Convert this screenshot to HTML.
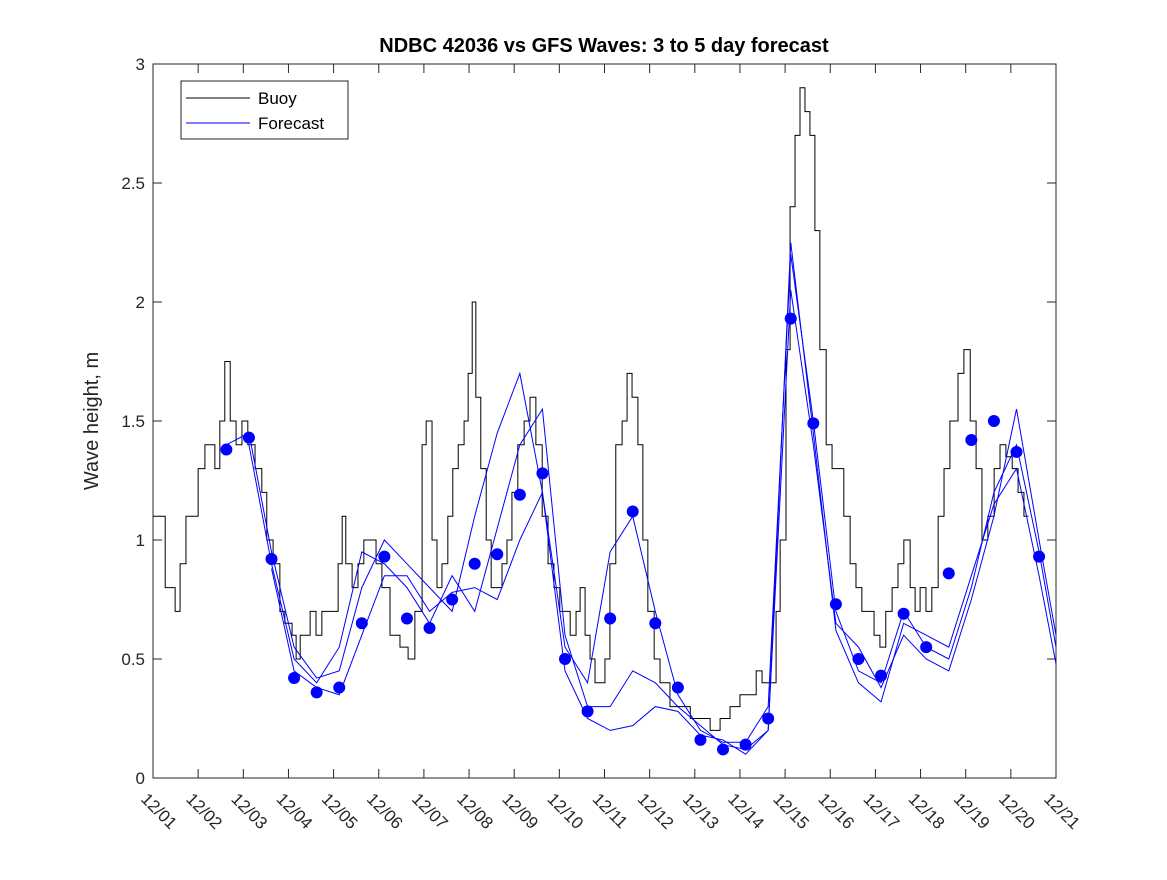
<!DOCTYPE html>
<html><head><meta charset="utf-8"><style>
body{margin:0;background:#fff;}
svg text{font-family:"Liberation Sans",sans-serif;}
</style></head><body>
<svg id="chart" width="1167" height="875" xmlns="http://www.w3.org/2000/svg">
<rect x="0" y="0" width="1167" height="875" fill="#fff"/>
<rect x="153" y="64" width="903" height="714" fill="#fff" stroke="#262626" stroke-width="1"/>
<text x="604" y="52" text-anchor="middle" font-size="20" font-weight="bold" fill="#000">NDBC 42036 vs GFS Waves: 3 to 5 day forecast</text>
<text transform="translate(98,421) rotate(-90)" text-anchor="middle" font-size="20" fill="#262626">Wave height, m</text>
<g id="axes"></g>
<g id="series"></g>
<g>
<rect x="181" y="81" width="167" height="58" fill="#fff" stroke="#262626" stroke-width="1"/>
<line x1="186" y1="98" x2="250" y2="98" stroke="#000" stroke-width="1"/>
<text x="258" y="104" font-size="17" fill="#000">Buoy</text>
<line x1="186" y1="123" x2="250" y2="123" stroke="#0000ff" stroke-width="1"/>
<text x="258" y="129" font-size="17" fill="#000">Forecast</text>
</g>
</svg>
<script>
const xTickLabels=["12/01","12/02","12/03","12/04","12/05","12/06","12/07","12/08","12/09","12/10","12/11","12/12","12/13","12/14","12/15","12/16","12/17","12/18","12/19","12/20","12/21"];
const yTicks=[0,0.5,1,1.5,2,2.5,3];
const yTickLabels=["0","0.5","1","1.5","2","2.5","3"];
const buoyDays=[0,.27,.49,.6,.73,.86,1.0,1.15,1.37,1.48,1.59,1.71,1.84,1.97,2.1,2.26,2.41,2.52,2.66,2.81,2.92,3.08,3.17,3.26,3.48,3.61,3.74,3.92,4.1,4.19,4.27,4.41,4.54,4.67,4.81,4.94,5.07,5.25,5.47,5.65,5.8,5.96,6.05,6.18,6.29,6.4,6.53,6.64,6.76,6.89,6.98,7.07,7.15,7.26,7.38,7.49,7.6,7.73,7.84,7.95,8.08,8.22,8.35,8.48,8.62,8.75,8.88,9.01,9.15,9.24,9.37,9.46,9.57,9.68,9.79,9.9,10.01,10.12,10.25,10.39,10.5,10.61,10.74,10.85,10.96,11.1,11.23,11.34,11.45,11.56,11.67,11.9,12.12,12.34,12.56,12.78,13.0,13.22,13.36,13.49,13.67,13.8,13.89,14.02,14.11,14.22,14.33,14.44,14.55,14.66,14.77,14.91,15.04,15.17,15.3,15.44,15.57,15.7,15.84,15.97,16.1,16.23,16.37,16.5,16.63,16.77,16.88,16.99,17.12,17.25,17.39,17.52,17.65,17.83,17.96,18.1,18.23,18.36,18.49,18.63,18.76,18.89,19.03,19.16,19.29];
const buoyValues=[1.1,0.8,0.7,0.9,1.1,1.1,1.3,1.4,1.3,1.5,1.75,1.5,1.4,1.5,1.4,1.3,1.2,1.0,0.9,0.7,0.65,0.6,0.5,0.6,0.7,0.6,0.7,0.7,0.9,1.1,0.9,0.8,0.9,1.0,1.0,0.9,0.8,0.6,0.55,0.5,0.7,1.4,1.5,1.0,0.8,0.9,1.1,1.3,1.4,1.5,1.7,2.0,1.6,1.3,1.0,0.8,0.8,0.9,1.0,1.2,1.4,1.5,1.6,1.4,1.1,0.9,0.8,0.7,0.7,0.6,0.7,0.8,0.6,0.5,0.4,0.4,0.5,0.9,1.4,1.5,1.7,1.6,1.4,1.0,0.7,0.5,0.4,0.4,0.3,0.3,0.3,0.25,0.25,0.2,0.25,0.3,0.35,0.35,0.45,0.4,0.4,0.7,1.0,1.8,2.4,2.7,2.9,2.8,2.7,2.3,1.8,1.4,1.3,1.3,1.1,0.9,0.8,0.7,0.7,0.6,0.55,0.7,0.8,0.9,1.0,0.8,0.7,0.8,0.7,0.8,1.1,1.3,1.5,1.7,1.8,1.5,1.3,1.0,1.1,1.3,1.4,1.35,1.3,1.2,1.1];
const fcDays=[1.625,2.125,2.625,3.125,3.625,4.125,4.625,5.125,5.625,6.125,6.625,7.125,7.625,8.125,8.625,9.125,9.625,10.125,10.625,11.125,11.625,12.125,12.625,13.125,13.625,14.125,14.625,15.125,15.625,16.125,16.625,17.125,17.625,18.125,18.625,19.125,19.625,20.0];
const dotValues=[1.38,1.43,0.92,0.42,0.36,0.38,0.65,0.93,0.67,0.63,0.75,0.90,0.94,1.19,1.28,0.50,0.28,0.67,1.12,0.65,0.38,0.16,0.12,0.14,0.25,1.93,1.49,0.73,0.50,0.43,0.69,0.55,0.86,1.42,1.50,1.37,0.93];
const forecastA=[1.40,1.45,0.95,0.55,0.42,0.45,0.80,1.00,0.90,0.80,0.70,1.10,1.45,1.70,1.20,0.55,0.40,0.95,1.10,0.70,0.35,0.20,0.15,0.15,0.30,2.20,1.50,0.70,0.45,0.40,0.70,0.55,0.50,0.80,1.20,1.40,0.95,0.55];
const forecastB=[null,1.40,0.90,0.50,0.40,0.55,0.95,0.90,0.80,0.65,0.85,0.70,1.05,1.40,1.55,0.60,0.30,0.30,0.45,0.40,0.30,0.22,0.14,0.12,0.20,2.05,1.40,0.65,0.55,0.38,0.60,0.50,0.45,0.75,1.10,1.55,1.00,0.60];
const forecastC=[null,null,0.88,0.45,0.38,0.35,0.60,0.85,0.85,0.70,0.78,0.80,0.75,1.00,1.20,0.45,0.25,0.20,0.22,0.30,0.28,0.18,0.16,0.10,0.20,2.25,1.45,0.62,0.40,0.32,0.65,0.60,0.55,0.85,1.15,1.30,0.85,0.48];

const NS="http://www.w3.org/2000/svg";
const X0=153,X1=1056,Y0=778,Y1=64;
function xs(d){return X0+(X1-X0)*d/20;}
function ys(v){return Y0-(Y0-Y1)*v/3;}
function mk(tag,attrs,parent){const e=document.createElementNS(NS,tag);for(const k in attrs)e.setAttribute(k,attrs[k]);parent.appendChild(e);return e;}
const axes=document.getElementById('axes'),ser=document.getElementById('series');
xTickLabels.forEach((lab,i)=>{
  const x=xs(i);
  const t1=mk('line',{x1:x,y1:Y0,x2:x,y2:Y0-9,stroke:'#262626'},axes);
  
  
  mk('line',{x1:x,y1:Y1,x2:x,y2:Y1+9,stroke:'#262626'},axes);
  const t=mk('text',{transform:`translate(${x-13},${Y0+22}) rotate(45)`,'font-size':17,fill:'#262626'},axes);
  
  
  t.textContent=lab;
});
yTicks.forEach((v,i)=>{
  const y=ys(v);
  mk('line',{x1:X0,y1:y,x2:X0+9,y2:y,stroke:'#262626'},axes);
  mk('line',{x1:X1,y1:y,x2:X1-9,y2:y,stroke:'#262626'},axes);
  const t=mk('text',{x:X0-8,y:y+6,'text-anchor':'end','font-size':17,fill:'#262626'},axes);
  
  
  t.textContent=yTickLabels[i];
});
// buoy stairs
let d='';
buoyDays.forEach((t,i)=>{
  const x=xs(t),y=ys(buoyValues[i]);
  if(i===0)d+=`M${x},${y}`;else d+=`H${x}V${y}`;
});
d+=`H${xs(buoyDays[buoyDays.length-1]+0.1)}`;
const bp=mk('path',{d:d,fill:'none',stroke:'#000','stroke-width':1},ser);


[forecastA,forecastB,forecastC].forEach((arr,si)=>{
  let p='',started=false;
  arr.forEach((v,i)=>{
    if(v===null)return;
    p+=(started?'L':'M')+xs(fcDays[i])+','+ys(v);started=true;
  });
  const fp=mk('path',{d:p,fill:'none',stroke:'#0000ff','stroke-width':1},ser);
  
  
});
dotValues.forEach((v,i)=>{
  const c=mk('circle',{cx:xs(fcDays[i]),cy:ys(v),r:6,fill:'#0000ff'},ser);
  
  
});
</script>
</body></html>
